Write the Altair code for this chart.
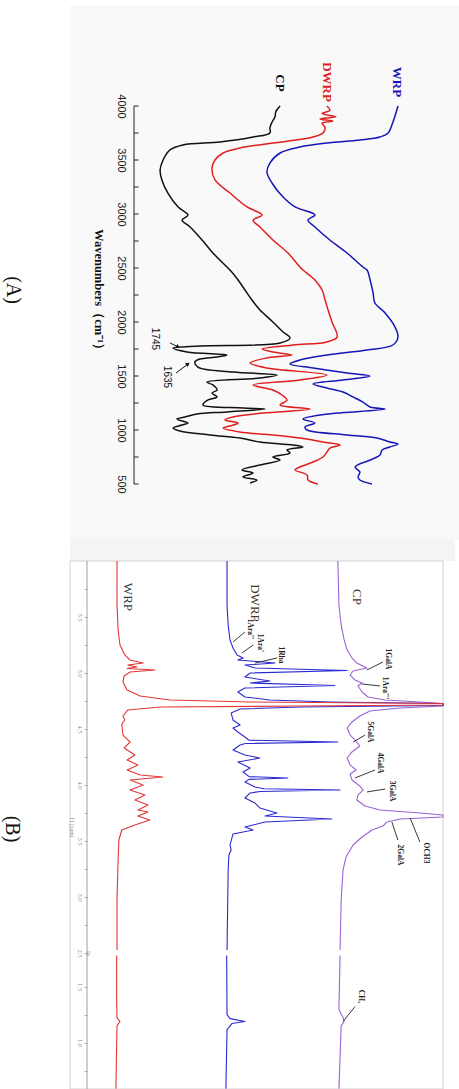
import altair as alt
import pandas as pd

W, H = 459, 1089

# ---------------- Panel A : FTIR (offset-stacked, a.u.) ----------------
CP_WN = [4000, 3950, 3900, 3850, 3800, 3750, 3713, 3667, 3639, 3593, 3500, 3407, 3315, 3194, 3065,
         2991, 2944, 2880, 2759, 2639, 2509, 2481, 2389, 2296, 2204, 2111, 2000, 1907, 1852, 1806,
         1778, 1759, 1722, 1694, 1676, 1657, 1630, 1583, 1537, 1509, 1481, 1444, 1417, 1370, 1343,
         1306, 1278, 1231, 1204, 1194, 1167, 1148, 1120, 1102, 1065, 1046, 1018, 991, 954, 926, 889,
         861, 843, 815, 787, 750, 722, 676, 630, 602, 565, 537, 509]
CP_T = [48.7, 47.3, 47.0, 46.0, 45.3, 45.3, 39.7, 28.7, 16.3, 12.0, 9.7, 8.7, 9.3, 11.3, 14.7,
        18.0, 16.0, 18.7, 22.7, 26.3, 31.0, 32.0, 34.7, 37.0, 39.3, 42.0, 46.3, 49.7, 52.0, 48.7,
        22.0, 13.0, 17.7, 31.0, 27.7, 22.0, 20.3, 21.3, 33.0, 47.7, 42.0, 24.3, 26.3, 27.7, 26.0,
        27.7, 24.7, 23.0, 36.3, 43.7, 31.0, 21.0, 17.0, 14.3, 18.0, 16.0, 13.0, 15.3, 25.3, 35.3, 42.0,
        53.0, 56.3, 51.0, 52.0, 46.3, 48.7, 42.0, 36.0, 39.7, 36.3, 41.0, 38.7]

DWRP_WN = [4000, 3960, 3930, 3900, 3880, 3860, 3840, 3800, 3750, 3713, 3690, 3657, 3611, 3565, 3500,
           3426, 3315, 3194, 3065, 2991, 2944, 2880, 2759, 2639, 2509, 2481, 2389, 2296, 2204, 2111,
           2000, 1861, 1815, 1787, 1750, 1722, 1694, 1667, 1620, 1574, 1509, 1463, 1417, 1370, 1324,
           1278, 1231, 1194, 1157, 1120, 1093, 1065, 1037, 1018, 981, 954, 926, 889, 861, 833, 796,
           750, 704, 657, 630, 583, 537, 500]
DWRP_T = [64.3, 65.3, 62.7, 67.3, 62.0, 66.3, 62.7, 63.7, 63.0, 59.7, 55.3, 46.3, 35.3, 29.7, 27.0,
          26.0, 27.0, 32.0, 37.7, 42.7, 39.7, 42.0, 46.3, 51.3, 55.3, 56.3, 60.3, 62.7, 63.7, 64.7,
          66.0, 67.7, 64.3, 53.0, 42.7, 46.3, 52.7, 44.3, 38.7, 44.3, 64.3, 55.3, 39.7, 46.3, 49.3,
          51.0, 48.7, 58.7, 43.0, 33.0, 30.3, 34.7, 32.0, 29.7, 35.3, 46.3, 55.3, 63.0, 68.7, 65.3, 64.3,
          63.0, 59.7, 55.3, 53.7, 57.7, 58.0, 61.3]

WRP_WN = [4000, 3850, 3750, 3713, 3685, 3657, 3620, 3565, 3472, 3389, 3287, 3157, 3065, 2991, 2944,
          2880, 2759, 2639, 2509, 2481, 2389, 2269, 2176, 2083, 1954, 1861, 1787, 1741, 1694, 1648,
          1611, 1574, 1528, 1500, 1463, 1426, 1389, 1352, 1306, 1259, 1213, 1194, 1157, 1139, 1102,
          1065, 1028, 1000, 954, 926, 889, 870, 843, 815, 769, 722, 657, 611, 565, 537, 500]
WRP_T = [88.0, 86.3, 84.7, 82.0, 75.3, 64.3, 55.3, 48.7, 45.3, 44.3, 46.0, 49.7, 53.7, 60.3, 58.0,
         60.3, 65.3, 71.0, 76.3, 77.7, 78.7, 79.7, 80.3, 83.7, 87.0, 88.0, 86.3, 77.7, 64.3, 55.3,
         52.0, 59.7, 71.0, 78.7, 69.7, 59.7, 64.3, 69.7, 73.0, 76.3, 78.7, 83.7, 67.7, 62.0, 56.3,
         60.3, 57.0, 57.7, 71.0, 81.0, 85.3, 88.0, 85.3, 82.7, 82.0, 78.7, 73.7, 75.3, 74.7, 75.3, 79.3]

FTIR_SAMPLES = ["WRP", "DWRP", "CP"]
FTIR_COLORS = ["#1616b8", "#e01e1e", "#111111"]
FTIR_LABEL_T = [87.7, 64.3, 48.7]
FTIR_LABEL_WN = [4222, 4222, 4213]
FTIR_TICKS = [4000, 3750, 3500, 3250, 3000, 2750, 2500, 2250, 2000, 1750, 1500, 1250, 1000, 750, 500]
FTIR_LABELED = [4000, 3500, 3000, 2500, 2000, 1500, 1000, 500]
PEAK_TEXT = ["1745", "1635"]
PEAK_TEXT_T = [7.0, 11.0]
PEAK_TEXT_WN = [1843, 1491]
ARROW_T0 = [12.0, 14.0]
ARROW_WN0 = [1806, 1528]
ARROW_T1 = [14.7, 18.0]
ARROW_WN1 = [1769, 1611]
ARROW_ANGLE = [27, 323]

# ---------------- Panel B : 1H NMR (ppm, offset-stacked intensity a.u.) ----------------
WRP_PPM = [6.0, 5.607, 5.384, 5.25, 5.161, 5.116, 5.089, 5.071, 5.054, 5.040, 5.027, 5.009, 4.973,
           4.920, 4.848, 4.795, 4.759, 4.741, 4.728, 4.714, 4.705, 4.696, 4.670, 4.616, 4.580, 4.545,
           4.446, 4.384, 4.330, 4.268, 4.223, 4.179, 4.134, 4.089, 4.071, 4.045, 4.0, 3.955, 3.911,
           3.866, 3.821, 3.777, 3.759, 3.723, 3.688, 3.643, 3.598, 3.509, 3.330, 2.973, 2.527,
           1.777, 1.384, 1.223, 1.188, 1.152, 0.589]
WRP_I = [12.6, 12.6, 12.9, 13.4, 14.7, 16.1, 19.6, 15.5, 17.9, 15.3, 22.8, 16.1, 14.5,
         14.2, 15.3, 18.8, 26.8, 48.3, 100, 100, 61.7, 24.1, 15.5, 14.2, 14.7, 13.9,
         14.2, 16.1, 14.5, 17.4, 15.3, 18.2, 15.3, 18.8, 24.9, 16.1, 19.6, 16.1, 20.1,
         17.4, 20.9, 18.2, 20.9, 18.2, 21.4, 17.4, 13.9, 13.1, 12.9, 12.6, 12.6,
         12.5, 12.5, 12.6, 13.4, 12.6, 12.3]

DWRP_PPM = [6.0, 5.607, 5.429, 5.295, 5.223, 5.161, 5.134, 5.116, 5.089, 5.071, 5.045, 5.022, 5.0,
            4.964, 4.929, 4.911, 4.888, 4.866, 4.830, 4.786, 4.759, 4.741, 4.728, 4.710, 4.696,
            4.679, 4.643, 4.580, 4.536, 4.509, 4.473, 4.429, 4.400, 4.384, 4.370, 4.357, 4.313,
            4.268, 4.241, 4.205, 4.152, 4.116, 4.075, 4.063, 4.050, 4.027, 3.982, 3.967, 3.955,
            3.942, 3.929, 3.884, 3.839, 3.795, 3.75, 3.723, 3.696, 3.670, 3.625, 3.598, 3.563,
            3.464, 3.420, 3.375, 3.241, 2.527,
            1.777, 1.25, 1.214, 1.188, 1.170, 1.116, 0.589]
DWRP_I = [42.1, 42.1, 42.4, 42.9, 43.7, 44.8, 46.4, 45.0, 55.0, 46.9, 49.6, 74.3, 48.3,
          46.9, 53.6, 48.3, 71.0, 46.9, 45.0, 46.9, 53.6, 69.7, 100, 100, 61.7,
          45.6, 43.2, 43.7, 45.6, 43.7, 45.0, 46.9, 48.0, 71.8, 47.0, 45.6, 43.7,
          46.9, 50.9, 45.0, 48.3, 46.4, 48.0, 58.4, 48.0, 46.9, 49.6, 52.0, 72.4,
          51.0, 48.3, 46.9, 49.6, 50.9, 55.5, 52.3, 70.2, 52.3, 46.9, 49.1, 43.7,
          42.9, 43.2, 42.6, 42.4, 42.1,
          42.0, 42.1, 42.9, 46.9, 43.4, 42.1, 41.8]

CP_PPM = [6.0, 5.607, 5.429, 5.295, 5.205, 5.134, 5.089, 5.045, 5.018, 4.982, 4.938, 4.911, 4.884,
          4.830, 4.786, 4.759, 4.741, 4.728, 4.705, 4.688, 4.661, 4.616, 4.563, 4.509, 4.446, 4.402,
          4.348, 4.295, 4.241, 4.179, 4.134, 4.098, 4.045, 3.991, 3.955, 3.911, 3.866, 3.813, 3.777,
          3.75, 3.732, 3.714, 3.696, 3.670, 3.634, 3.598, 3.536, 3.464, 3.357, 3.241, 2.973, 2.527,
          1.777, 1.295, 1.223, 1.188, 1.152, 0.589]
CP_I = [71.8, 72.1, 72.7, 73.5, 74.3, 75.6, 76.9, 79.6, 75.9, 75.1, 76.4, 78.3, 77.2,
        78.3, 79.9, 84.5, 93.8, 100, 100, 88.5, 80.4, 77.7, 75.6, 74.3, 75.1, 76.4,
        77.7, 75.6, 74.3, 75.1, 76.7, 75.1, 75.6, 77.7, 78.6, 77.2, 76.9, 79.1, 83.1,
        93.8, 100, 100, 88.5, 85.0, 83.9, 81.0, 78.3, 75.9, 74.0, 73.2, 72.7, 72.4,
        72.4, 72.1, 73.2, 73.5, 72.7, 72.1]

NMR_SAMPLES = ["WRP", "DWRP", "CP"]
NMR_COLORS = ["#e23636", "#2a2ad2", "#9a62d6"]
NMR_LABEL_PPM = [5.679, 5.625, 5.679]
NMR_LABEL_I = [15.5, 49.6, 76.9]
NMR_TICKS_PPM = [5.75, 5.5, 5.25, 5.0, 4.75, 4.5, 4.25, 4.0, 3.75, 3.5, 3.25, 3.0, 2.75, 2.5,
                 1.5, 1.25, 1.0, 0.75]
ANN_TEXT = ["1Ara''", "1Ara'", "1Rha", "1GalA", "1Ara'''", "5GalA", "4GalA", "3GalA",
            "OCH3", "2GalA", "CH₃"]
ANN_TEXT_PPM = [5.393, 5.268, 5.161, 5.125, 4.866, 4.473, 4.196, 3.946, 3.393, 3.375, 1.411]
ANN_TEXT_I = [48.3, 50.9, 56.6, 85.3, 84.5, 80.4, 83.1, 86.3, 95.4, 88.5, 78.0]
ANN_L0_PPM = [5.277, 5.179, 5.089, 5.027, 4.902, 4.384, 4.063, 3.938, 3.705, 3.670, 1.188]
ANN_L0_I = [43.7, 46.1, 49.6, 79.6, 78.3, 75.9, 76.4, 79.6, 91.2, 86.3, 73.2]
ANN_L1_PPM = [5.366, 5.25, 5.134, 5.098, 4.884, 4.446, 4.134, 3.964, 3.491, 3.509, 1.321]
ANN_L1_I = [46.9, 49.1, 55.5, 83.9, 83.1, 79.1, 81.8, 84.5, 93.8, 87.9, 76.4]

# ---------------- data tables ----------------
def ftir_rows():
    rows = []
    for name, wn, t in [("CP", CP_WN, CP_T), ("DWRP", DWRP_WN, DWRP_T), ("WRP", WRP_WN, WRP_T)]:
        for i, (a, b) in enumerate(zip(wn, t)):
            rows.append({"sample": name, "wn": a, "t": b, "i": i})
    return pd.DataFrame(rows)

def nmr_rows():
    rows = []
    for name, pp, it in [("CP", CP_PPM, CP_I), ("DWRP", DWRP_PPM, DWRP_I), ("WRP", WRP_PPM, WRP_I)]:
        for i, (a, b) in enumerate(zip(pp, it)):
            rows.append({"sample": name, "ppm": a, "inten": b, "i": i,
                         "seg": name + ("_hi" if a >= 2.0 else "_lo")})
    return pd.DataFrame(rows)

ftir_df = ftir_rows()
nmr_df = nmr_rows()

# ---------------- Panel A scales / axis ----------------
PX_PER_WN = 0.108
WN_TOP = 4000 + 106 / PX_PER_WN
WN_BOT = WN_TOP - H / PX_PER_WN
xA = alt.Scale(domain=[-134 / 3, (W - 134) / 3], nice=False, zero=False)
yA = alt.Scale(domain=[WN_BOT, WN_TOP], nice=False, zero=False)
axisA = alt.Axis(orient="left", offset=-134, values=FTIR_LABELED, format="d", zindex=2,
                 labelAngle=90, labelAlign="center", labelBaseline="middle", labelPadding=14,
                 ticks=False, tickSize=0, domain=False, grid=False, labelFlush=False,
                 labelOverlap=False, labelFont="Liberation Sans", labelFontSize=11,
                 labelColor="#222222",
                 title="Wavenumbers（cm⁻¹）", titleAngle=90, titleX=-36, titleY=292,
                 titleAlign="center", titleBaseline="middle", titleFont="Liberation Serif",
                 titleFontSize=12.5, titleFontWeight="bold", titleColor="#111111")
colA = alt.Color("sample:N", scale=alt.Scale(domain=FTIR_SAMPLES, range=FTIR_COLORS), legend=None)

def XA(f):
    return alt.X(f, type="quantitative", scale=xA, axis=None)

def YA(f):
    return alt.Y(f, type="quantitative", scale=yA, axis=axisA)

bgA = alt.Chart(pd.DataFrame({"t": [-64 / 3], "t2": [(W - 134) / 3], "wn": [4935], "wn2": [-18]})).mark_rect(
    color="#f9f9f9").encode(x=XA("t"), x2="t2", y=YA("wn"), y2="wn2")

linesA = alt.Chart(ftir_df).mark_line(strokeWidth=1.5, strokeJoin="round", interpolate="catmull-rom").encode(
    x=XA("t"), y=YA("wn"), color=colA, detail="sample:N", order="i:Q")

axisLineA = alt.Chart(pd.DataFrame({"t": [0], "wn": [FTIR_TICKS[0]], "wn2": [FTIR_TICKS[-1]]})).mark_rule(
    color="#222222", strokeWidth=1).encode(x=XA("t"), y=YA("wn"), y2="wn2")

ticksA = alt.Chart(pd.DataFrame({"wn": FTIR_TICKS, "t": 0.0, "t2": 1.5})).mark_rule(
    color="#222222", strokeWidth=1).encode(x=XA("t"), x2="t2", y=YA("wn"))

labelsA = alt.Chart(pd.DataFrame({"sample": FTIR_SAMPLES, "t": FTIR_LABEL_T, "wn": FTIR_LABEL_WN})).mark_text(
    angle=90, font="Liberation Serif", fontWeight="bold", fontSize=13, align="center", baseline="middle"
).encode(x=XA("t"), y=YA("wn"), text="sample:N", color=colA)

peakTextA = alt.Chart(pd.DataFrame({"lab": PEAK_TEXT, "t": PEAK_TEXT_T, "wn": PEAK_TEXT_WN})).mark_text(
    angle=90, font="Liberation Sans", fontSize=10, align="center", baseline="middle", color="#111111"
).encode(x=XA("t"), y=YA("wn"), text="lab:N")

arrowDf = pd.DataFrame({"t": ARROW_T0, "wn": ARROW_WN0, "t2": ARROW_T1, "wn2": ARROW_WN1, "ang": ARROW_ANGLE})
arrowLineA = alt.Chart(arrowDf).mark_rule(color="#111111", strokeWidth=1).encode(
    x=XA("t"), x2="t2", y=YA("wn"), y2="wn2")
arrowHeadA = alt.Chart(arrowDf).mark_point(shape="triangle-right", filled=True, size=22, color="#111111",
                                           opacity=1).encode(
    x=XA("t2"), y=YA("wn2"), angle=alt.Angle("ang:Q", scale=None))

tagA = alt.Chart(pd.DataFrame({"lab": ["(A)"], "t": [-40.3], "wn": [2296]})).mark_text(
    angle=90, font="Liberation Serif", fontSize=20, align="center", baseline="middle", color="#111111"
).encode(x=XA("t"), y=YA("wn"), text="lab:N")

panelA = alt.layer(bgA, linesA, axisLineA, ticksA, labelsA, peakTextA, arrowLineA, arrowHeadA, tagA)

# ---------------- Panel B scales / axis ----------------
PX_PER_PPM = 112.0
POS_TOP = 5.5 + 617 / PX_PER_PPM
POS_BOT = POS_TOP - H / PX_PER_PPM
U_PX = 3.73
xB = alt.Scale(domain=[-70 / U_PX, (W - 70) / U_PX], nice=False, zero=False)
yB = alt.Scale(domain=[POS_BOT, POS_TOP], nice=False, zero=False)
BREAK_SHIFT = 0.7
POS_EXPR = f"datum.ppm >= 2.0 ? datum.ppm : datum.ppm + {BREAK_SHIFT}"
tick_pos = [p if p >= 2.0 else round(p + BREAK_SHIFT, 3) for p in NMR_TICKS_PPM]
label_expr = (
    "abs((datum.value >= 2.35 ? datum.value : datum.value - 0.7) * 2 - "
    "round((datum.value >= 2.35 ? datum.value : datum.value - 0.7) * 2)) < 0.01 "
    "? format(datum.value >= 2.35 ? datum.value : datum.value - 0.7, '.1f') : ''"
)
axisB = alt.Axis(orient="left", offset=-87, values=tick_pos, labelExpr=label_expr, zindex=2,
                 labelAngle=90, labelAlign="center", labelBaseline="middle", labelPadding=5,
                 ticks=True, tickSize=3, tickColor="#9a9a9a", tickWidth=0.8,
                 domain=False, grid=False, labelFlush=False, labelOverlap=False,
                 labelFont="Liberation Serif", labelFontSize=6.5, labelColor="#8a8a8a", title=None)
colB = alt.Color("sample:N", scale=alt.Scale(domain=NMR_SAMPLES, range=NMR_COLORS), legend=None)

def XB(f):
    return alt.X(f, type="quantitative", scale=xB, axis=None)

def YB(f):
    return alt.Y(f, type="quantitative", scale=yB, axis=axisB)

stripB = alt.Chart(pd.DataFrame({"u": [0], "u2": [(455 - 70) / U_PX], "ppm": [6.0], "ppm2": [6.0 + 22 / PX_PER_PPM]})
                   ).transform_calculate(pos="datum.ppm", pos2="datum.ppm2").mark_rect(color="#f4f4f4").encode(
    x=XB("u"), x2="u2", y=YB("pos"), y2="pos2")

frameB = alt.Chart(pd.DataFrame({"u": [0], "u2": [100], "ppm": [6.0]})).transform_calculate(
    pos="datum.ppm", pos2=f"{POS_BOT}").mark_rect(fill="white", stroke="#d2d2d2", strokeWidth=1).encode(
    x=XB("u"), x2="u2", y=YB("pos"), y2="pos2")

linesB = alt.Chart(nmr_df).transform_calculate(pos=POS_EXPR).mark_line(strokeWidth=1.1, strokeJoin="round").encode(
    x=XB("inten"), y=YB("pos"), color=colB, detail="seg:N", order="i:Q")

axisLineB = alt.Chart(pd.DataFrame({"u": [17 / U_PX], "ppm": [6.0]})).transform_calculate(
    pos="datum.ppm", pos2=f"{POS_BOT}").mark_rule(color="#a0a0a0", strokeWidth=1).encode(
    x=XB("u"), y=YB("pos"), y2="pos2")

breakB = alt.Chart(pd.DataFrame({"lab": ["//"], "u": [4.9], "ppm": [2.49]})).transform_calculate(
    pos=POS_EXPR).mark_text(angle=0, fontSize=7, color="#777777", align="center", baseline="middle").encode(
    x=XB("u"), y=YB("pos"), text="lab:N")

f1B = alt.Chart(pd.DataFrame({"lab": ["f1 (ppm)"], "u": [0.6], "ppm": [3.62]})).transform_calculate(
    pos=POS_EXPR).mark_text(angle=90, fontSize=5.5, color="#888888", align="center", baseline="middle",
                            font="Liberation Serif").encode(x=XB("u"), y=YB("pos"), text="lab:N")

labelsB = alt.Chart(pd.DataFrame({"sample": NMR_SAMPLES, "u": NMR_LABEL_I, "ppm": NMR_LABEL_PPM})).transform_calculate(
    pos=POS_EXPR).mark_text(angle=90, font="Liberation Serif", fontSize=13, align="center", baseline="middle",
                            color="#3a3a3a").encode(x=XB("u"), y=YB("pos"), text="sample:N")

annLinesB = alt.Chart(pd.DataFrame({"ppm": ANN_L0_PPM, "u": ANN_L0_I, "ppm_b": ANN_L1_PPM, "u2": ANN_L1_I})
                      ).transform_calculate(pos=POS_EXPR,
                                            pos2=f"datum.ppm_b >= 2.0 ? datum.ppm_b : datum.ppm_b + {BREAK_SHIFT}"
                                            ).mark_rule(color="#222222", strokeWidth=0.9).encode(
    x=XB("u"), x2="u2", y=YB("pos"), y2="pos2")

annTextB = alt.Chart(pd.DataFrame({"lab": ANN_TEXT, "u": ANN_TEXT_I, "ppm": ANN_TEXT_PPM})).transform_calculate(
    pos=POS_EXPR).mark_text(angle=90, font="Liberation Serif", fontWeight="bold", fontSize=7.5, align="center",
                            baseline="middle", color="#222222").encode(x=XB("u"), y=YB("pos"), text="lab:N")

tagB = alt.Chart(pd.DataFrame({"lab": ["(B)"], "u": [-15.5], "ppm": [3.607]})).transform_calculate(
    pos=POS_EXPR).mark_text(angle=90, font="Liberation Serif", fontSize=20, align="center", baseline="middle",
                            color="#111111").encode(x=XB("u"), y=YB("pos"), text="lab:N")

panelB = alt.layer(stripB, frameB, linesB, axisLineB, breakB, f1B, labelsB, annLinesB, annTextB, tagB)

chart = alt.layer(panelA, panelB).resolve_scale(
    x="independent", y="independent", color="independent"
).properties(
    width=W, height=H, padding=0, background="white",
    autosize=alt.AutoSizeParams(type="none"),
).configure_view(stroke=None)

chart.save("out.html", embed_options={"renderer": "svg", "actions": False})
